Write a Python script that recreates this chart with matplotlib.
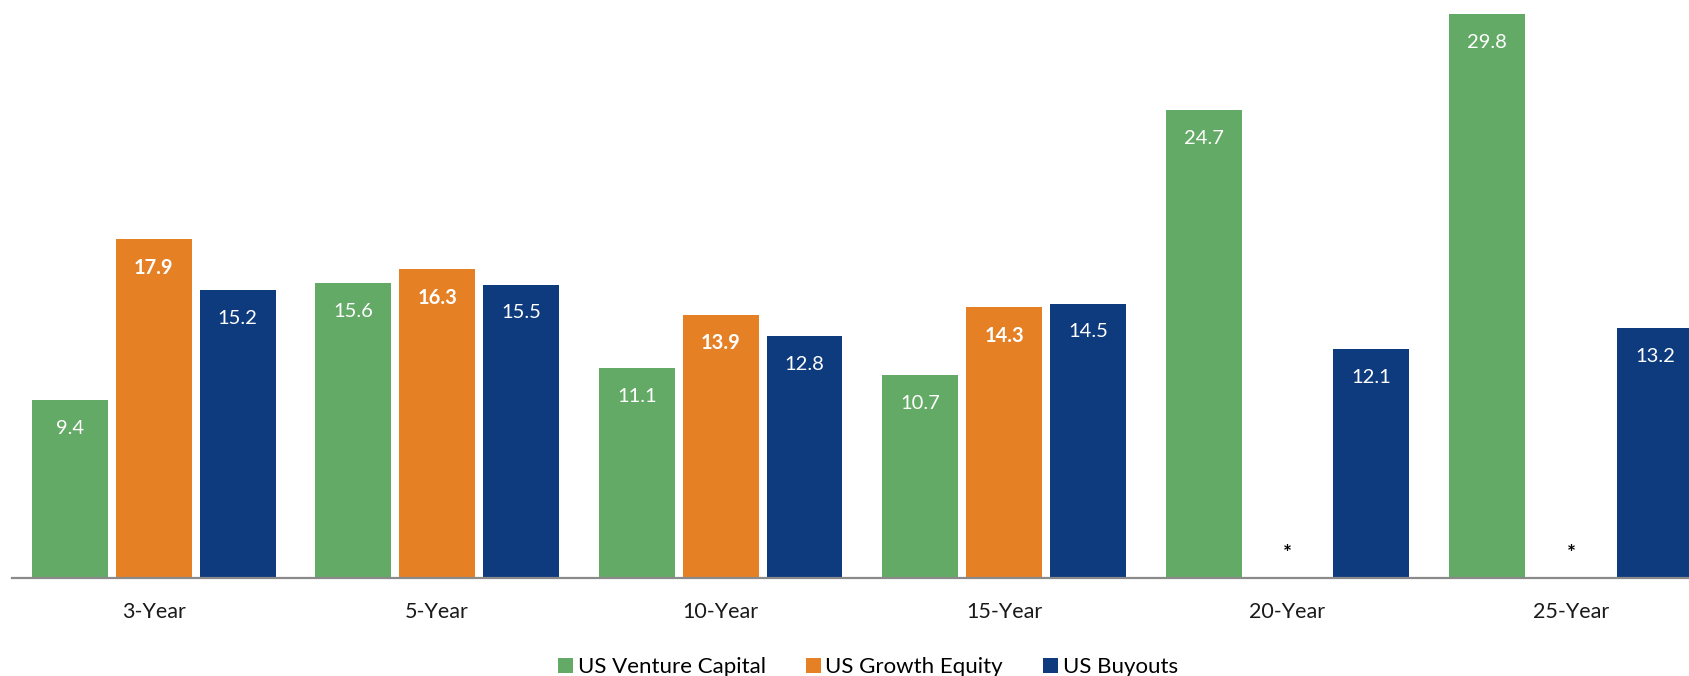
import matplotlib
matplotlib.use("Agg")
import matplotlib.pyplot as plt
from matplotlib.patches import Patch
import numpy as np

periods = ["3-Year", "5-Year", "10-Year", "15-Year", "20-Year", "25-Year"]
venture_capital = [9.4, 15.6, 11.1, 10.7, 24.7, 29.8]
growth_equity = [17.9, 16.3, 13.9, 14.3, None, None]
buyouts = [15.2, 15.5, 12.8, 14.5, 12.1, 13.2]

series_names = ["US Venture Capital", "US Growth Equity", "US Buyouts"]
colors = ["#63AA66", "#E58025", "#0E3A7E"]

plt.rcParams["font.family"] = ["Lato", "DejaVu Sans"]

W, H = 1690, 676
fig = plt.figure(figsize=(W / 100, H / 100), dpi=100)
ax = fig.add_axes([12 / W, (H - 578) / H, (W - 12) / W, 578 / H])

x = np.arange(len(periods))
step = 0.296
width = 0.268
all_series = [venture_capital, growth_equity, buyouts]

for k, (vals, color) in enumerate(zip(all_series, colors)):
    offset = (k - 1) * step
    for i, v in enumerate(vals):
        xi = x[i] + offset
        if v is None:
            # no data for this horizon
            ax.text(xi, 1.25, "*", ha="center", va="center", fontsize=15,
                    color="black", fontweight="bold")
            continue
        ax.bar(xi, v, width=width, color=color, linewidth=0)
        ax.text(xi, v - 1.5, f"{v:.1f}", ha="center", va="center",
                fontsize=14.5, color="white",
                fontweight="bold" if k == 1 else "normal")

ax.set_xlim(-0.5, 5.42)
ax.set_ylim(0, 578 / 18.93)
ax.set_xticks(x)
ax.set_xticklabels(periods, fontsize=15.5, color="#1a1a1a")
ax.tick_params(axis="x", length=0, pad=17)
ax.set_yticks([])
for side in ["top", "right", "left"]:
    ax.spines[side].set_visible(False)
ax.spines["bottom"].set_color("#8a8a8a")
ax.spines["bottom"].set_linewidth(1.6)

handles = [Patch(facecolor=c, edgecolor="none", label=n)
           for c, n in zip(colors, series_names)]
fig.legend(handles=handles, loc="center", bbox_to_anchor=(868 / W, 1 - 667 / H),
           ncol=3, frameon=False, fontsize=16, handlelength=0.68,
           handleheight=0.68, handletextpad=0.2, columnspacing=1.8,
           borderpad=0)

fig.savefig("out.png", dpi=100)
